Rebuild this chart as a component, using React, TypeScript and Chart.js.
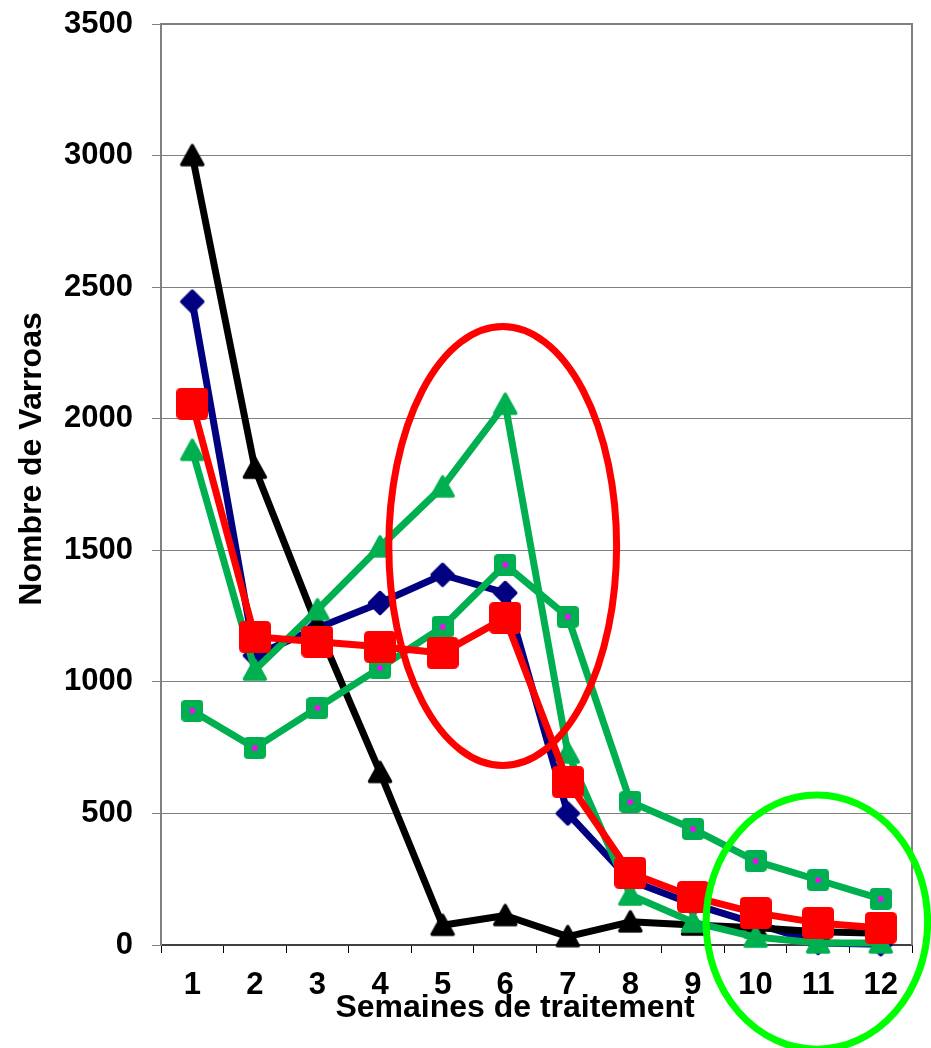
import React, { useEffect, useRef } from 'react';
import { Chart, registerables } from 'chart.js';

Chart.register(...registerables);

// ---- Data ----
const weeks = ['1', '2', '3', '4', '5', '6', '7', '8', '9', '10', '11', '12'];
const seriesRed = [2057, 1171, 1152, 1133, 1110, 1243, 620, 274, 183, 122, 84, 65];
const seriesGreenTriangle = [1880, 1045, 1274, 1513, 1741, 2055, 730, 190, 87, 30, 8, 8];
const seriesGreenSquare = [890, 749, 901, 1053, 1209, 1445, 1247, 544, 441, 319, 247, 175];
const seriesBlack = [3000, 1812, 1210, 656, 75, 112, 32, 88, 76, 66, 50, 45];
const seriesNavy = [2445, 1100, 1205, 1300, 1407, 1338, 500, 245, 155, 82, 8, 3];
const yMin = 0;
const yMax = 3500;
const yStep = 500;
const xTitle = 'Semaines de traitement';
const yTitle = 'Nombre de Varroas';

// Highlight ellipses (in data units: category index, value)
const redEllipse = { cx: 4.96, cy: 1516, rxCats: 1.82, ryVal: 834 };
const greenEllipse = { cx: 9.98, cy: 87, rxCats: 1.77, ryVal: 483 };

const FONT = '"Liberation Sans", Arial, Helvetica, sans-serif';
const GREEN = '#00b050';

function makeCanvas(w: number, h: number, draw: (ctx: CanvasRenderingContext2D) => void) {
  const c = document.createElement('canvas');
  c.width = w;
  c.height = h;
  const ctx = c.getContext('2d')!;
  draw(ctx);
  return c;
}

function triangleMarker(color: string) {
  return makeCanvas(26, 26, (ctx) => {
    ctx.beginPath();
    ctx.moveTo(13, 3);
    ctx.lineTo(23.5, 22);
    ctx.lineTo(2.5, 22);
    ctx.closePath();
    ctx.fillStyle = color;
    ctx.strokeStyle = color;
    ctx.lineWidth = 3.5;
    ctx.lineJoin = 'round';
    ctx.fill();
    ctx.stroke();
  });
}

function diamondMarker(color: string) {
  return makeCanvas(26, 26, (ctx) => {
    ctx.beginPath();
    ctx.moveTo(13, 2.5);
    ctx.lineTo(23.5, 13);
    ctx.lineTo(13, 23.5);
    ctx.lineTo(2.5, 13);
    ctx.closePath();
    ctx.fillStyle = color;
    ctx.strokeStyle = color;
    ctx.lineWidth = 3.5;
    ctx.lineJoin = 'round';
    ctx.fill();
    ctx.stroke();
  });
}

function roundedSquare(ctx: CanvasRenderingContext2D, x: number, y: number, s: number, r: number) {
  ctx.beginPath();
  ctx.moveTo(x + r, y);
  ctx.lineTo(x + s - r, y);
  ctx.quadraticCurveTo(x + s, y, x + s, y + r);
  ctx.lineTo(x + s, y + s - r);
  ctx.quadraticCurveTo(x + s, y + s, x + s - r, y + s);
  ctx.lineTo(x + r, y + s);
  ctx.quadraticCurveTo(x, y + s, x, y + s - r);
  ctx.lineTo(x, y + r);
  ctx.quadraticCurveTo(x, y, x + r, y);
  ctx.closePath();
}

function redSquareMarker() {
  return makeCanvas(32, 32, (ctx) => {
    roundedSquare(ctx, 0, 0, 32, 5);
    ctx.fillStyle = '#ff0000';
    ctx.fill();
  });
}

function greenSquareMarker() {
  return makeCanvas(22, 22, (ctx) => {
    roundedSquare(ctx, 0, 0, 22, 4);
    ctx.fillStyle = GREEN;
    ctx.fill();
    ctx.fillStyle = '#ff00ff';
    ctx.fillRect(8.5, 8.5, 5, 5);
  });
}

const decorPlugin = {
  id: 'decor',
  afterDatasetsDraw(chart: any) {
    const { ctx, scales } = chart;
    const x = scales.x;
    const y = scales.y;
    const catW = x.getPixelForValue(1) - x.getPixelForValue(0);
    const drawEllipse = (e: any, color: string) => {
      const cx = x.getPixelForValue(e.cx);
      const cy = y.getPixelForValue(e.cy);
      const rx = e.rxCats * catW;
      const ry = y.getPixelForValue(e.cy - e.ryVal) - cy;
      ctx.save();
      ctx.beginPath();
      ctx.ellipse(cx, cy, rx, ry, 0, 0, Math.PI * 2);
      ctx.strokeStyle = color;
      ctx.lineWidth = 7;
      ctx.stroke();
      ctx.restore();
    };
    drawEllipse(redEllipse, '#ff0000');
    drawEllipse(greenEllipse, '#00ff00');
  },
  beforeDatasetsDraw(chart: any) {
    const { ctx, chartArea } = chart;
    ctx.save();
    ctx.strokeStyle = '#808080';
    ctx.lineWidth = 2;
    ctx.beginPath();
    ctx.moveTo(chartArea.right, chartArea.top - 1);
    ctx.lineTo(chartArea.right, chartArea.bottom);
    ctx.stroke();
    ctx.beginPath();
    ctx.moveTo(chartArea.left, chartArea.top);
    ctx.lineTo(chartArea.right, chartArea.top);
    ctx.stroke();
    ctx.restore();
  },
  afterDraw(chart: any) {
    const { ctx, chartArea } = chart;
    ctx.save();
    ctx.fillStyle = '#000';
    ctx.font = `bold 32px ${FONT}`;
    ctx.textAlign = 'center';
    ctx.textBaseline = 'alphabetic';
    ctx.fillText(xTitle, 515, chartArea.bottom + 72);
    ctx.translate(41, 459);
    ctx.rotate(-Math.PI / 2);
    ctx.fillText(yTitle, 0, 0);
    ctx.restore();
  },
};

export default function App() {
  const ref = useRef<HTMLCanvasElement | null>(null);

  useEffect(() => {
    document.body.style.margin = '0';
    const canvas = ref.current;
    if (!canvas) return;

    const markers = {
      red: redSquareMarker(),
      greenSq: greenSquareMarker(),
      greenTri: triangleMarker(GREEN),
      black: triangleMarker('#000000'),
      navy: diamondMarker('#000080'),
    };

    const ds = (label: string, data: number[], color: string, marker: any) => ({
      label,
      data,
      borderColor: color,
      backgroundColor: color,
      borderWidth: 7,
      borderJoinStyle: 'round',
      borderCapStyle: 'round',
      pointStyle: marker,
      pointRadius: 10,
      pointHoverRadius: 10,
      tension: 0,
      clip: false,
    });

    const chart = new Chart(canvas, {
      type: 'line',
      data: {
        labels: weeks,
        datasets: [
          ds('Série 5', seriesRed, '#ff0000', markers.red),
          ds('Série 4', seriesGreenTriangle, GREEN, markers.greenTri),
          ds('Série 3', seriesGreenSquare, GREEN, markers.greenSq),
          ds('Série 2', seriesBlack, '#000000', markers.black),
          ds('Série 1', seriesNavy, '#000080', markers.navy),
        ] as any,
      },
      options: {
        responsive: false,
        animation: false,
        devicePixelRatio: 1,
        layout: { padding: { top: 24, right: 19, left: 0, bottom: 0 } },
        plugins: {
          legend: { display: false },
          title: { display: false },
          tooltip: { enabled: false },
        },
        scales: {
          x: {
            type: 'category',
            offset: true,
            afterFit: (s: any) => {
              s.height = 103;
              s.paddingLeft = 0;
              s.paddingRight = 0;
            },
            grid: {
              offset: true,
              drawOnChartArea: false,
              drawTicks: true,
              tickLength: 8,
              color: '#000000',
              lineWidth: 1,
            },
            border: { color: '#404040', width: 2 },
            ticks: {
              color: '#000000',
              padding: 14,
              maxRotation: 0,
              autoSkip: false,
              font: { family: FONT, size: 31, weight: 'bold' },
            },
          },
          y: {
            min: yMin,
            max: yMax,
            afterFit: (s: any) => {
              s.width = 161;
              s.paddingTop = 0;
              s.paddingBottom = 0;
            },
            grid: {
              color: '#808080',
              lineWidth: 1,
              drawTicks: true,
              tickLength: 9,
            },
            border: { color: '#808080', width: 2 },
            ticks: {
              stepSize: yStep,
              color: '#000000',
              padding: 19,
              callback: (v: any) => String(v),
              font: { family: FONT, size: 31, weight: 'bold' },
            },
          },
        },
      } as any,
      plugins: [decorPlugin],
    });

    return () => chart.destroy();
  }, []);

  return (
    <div style={{ width: 931, height: 1048, overflow: 'hidden' }}>
      <canvas ref={ref} width={931} height={1048} style={{ display: 'block' }} />
    </div>
  );
}
